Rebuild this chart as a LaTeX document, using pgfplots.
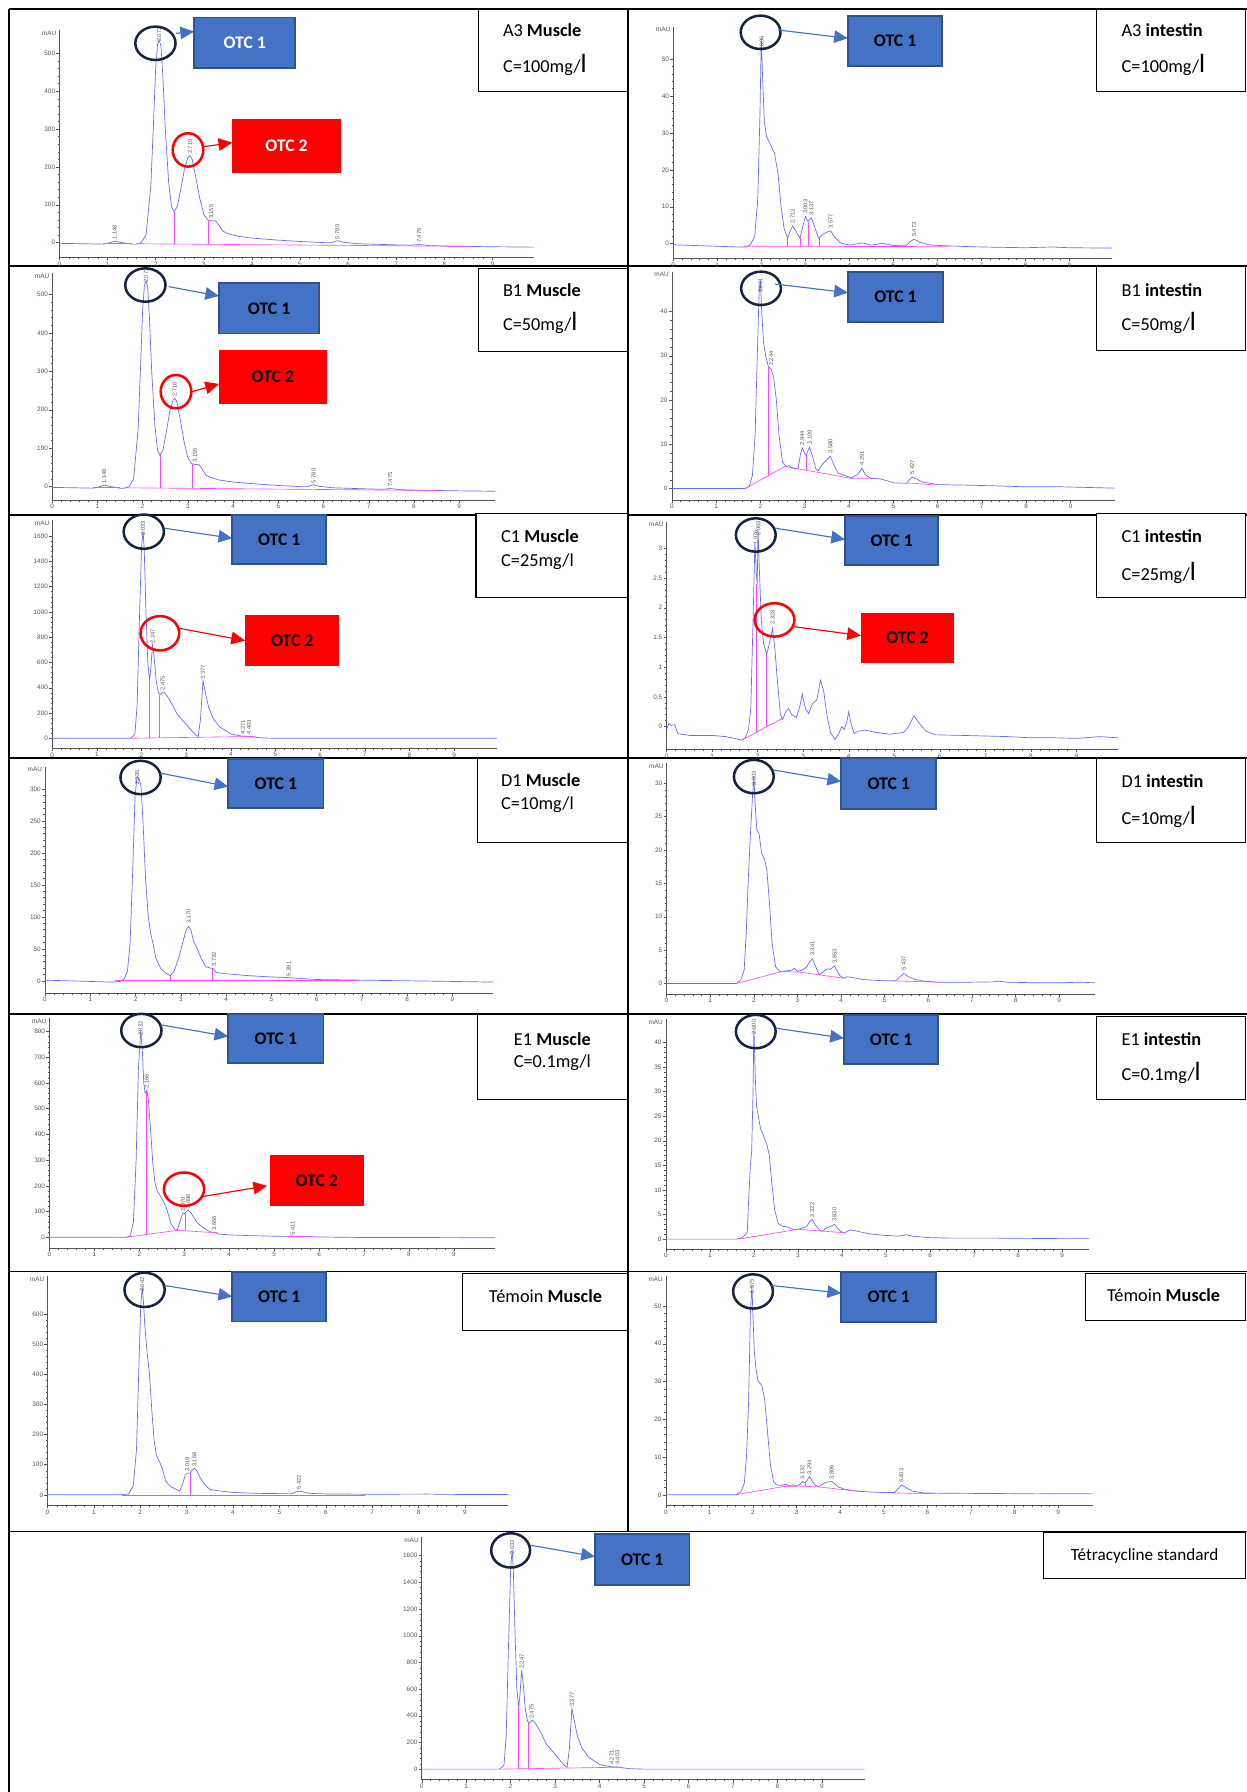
\documentclass[border=0pt]{standalone}
\usepackage{fontspec}
\setmainfont{Carlito}
\newfontfamily\arialf{Liberation Sans}
\usepackage{pgfplots}
\pgfplotsset{compat=1.18}
\usetikzlibrary{arrows.meta}

\definecolor{curve}{RGB}{105,105,248}
\definecolor{magl}{RGB}{255,70,255}
\definecolor{otcblue}{RGB}{68,114,196}
\definecolor{otcborder}{RGB}{47,82,143}
\definecolor{navy}{RGB}{24,36,62}
\definecolor{axgray}{RGB}{85,85,85}

\newcommand\tickfont{\arialf\fontsize{5.6}{6}\selectfont}
\newcommand\peakfont{\arialf\fontsize{5}{5}\selectfont}
\newcommand\otcfont{\fontsize{15.5}{17}\selectfont\bfseries}
\newcommand\labfont{\fontsize{16}{18}\selectfont}
\newcommand\BL{{\fontsize{23}{23}\selectfont l}}

\tikzset{plab/.style={rotate=90, anchor=west, font=\peakfont, text=black!65, inner sep=0.6pt}}
\pgfplotsset{
  chrom/.style={
    scale only axis, clip=false, anchor=south west,
    axis x line=bottom, axis y line=left,
    axis line style={-, draw=axgray, line width=0.45pt},
    tick style={draw=axgray, line width=0.35pt},
    major tick length=2.6pt, minor tick length=1.5pt,
    tick align=outside,
    xtick={0,1,...,9}, minor x tick num=4, minor y tick num=4,
    ticklabel style={font=\tickfont, text=axgray, inner sep=1pt},
    /pgf/number format/assume math mode=true,
    /pgf/number format/1000 sep={},
    extra description/.code={\node[font=\tickfont, text=axgray, anchor=north east, inner sep=0.5pt, xshift=-2pt] at (0,1) {mAU};},
  },
  cv/.style={draw=curve, line width=0.6pt, no marks},
  mg/.style={draw=magl, line width=0.55pt, no marks},
}

\newcommand\otcA[5]{%
  \draw[fill=otcblue, draw=otcborder, line width=1.5pt] (#1,#2) rectangle (#3,#4);
  \node[text=#5, font=\otcfont] at ({(#1+#3)/2},{(#2+#4)/2}) {OTC 1};}
\newcommand\otcB[5]{%
  \fill[red] (#1,#2) rectangle (#3,#4);
  \node[text=#5, font=\otcfont] at ({(#1+#3)/2},{(#2+#4)/2}) {OTC 2};}
\newcommand\circN[4]{\draw[navy, line width=2.2pt] (#1,#2) ellipse [x radius=#3pt, y radius=#4pt];}
\newcommand\circR[4]{\draw[red, line width=2.2pt] (#1,#2) ellipse [x radius=#3pt, y radius=#4pt];}
\newcommand\arrB[4]{\draw[otcblue, line width=1pt, -{Triangle[length=12pt, width=11pt]}] (#1,#2) -- (#3,#4);}
\newcommand\arrR[4]{\draw[red, line width=1pt, -{Triangle[length=12pt, width=11pt]}] (#1,#2) -- (#3,#4);}
\newcommand\labbox[4]{\draw[black, line width=0.9pt, fill=white] (#1,#2) rectangle (#3,#4);}

\begin{document}
\begin{tikzpicture}
\useasboundingbox (0,0) rectangle (1091pt,-1568pt);
% table frame
\begin{scope}[x=1pt,y=-1pt, line width=1.4pt]
\draw (8,8) -- (1091,8);
\draw (8,8) -- (8,1568);
\draw (549.5,8) -- (549.5,1340);
\foreach \yy in {233,450.5,663.5,887,1112.5,1340} {\draw (8,\yy) -- (1091,\yy);}
\end{scope}

% ---------- A3 Muscle ----------
\begin{axis}[chrom, at={(52pt,-225.1pt)}, width=415.5pt, height=198.9pt,
  xmin=0, xmax=9.87, ymin=-38.7, ymax=562, ytick={0,100,...,500}]
\addplot[cv] coordinates {(0,-2) (0.5,-3) (0.9,-4) (1.0,-2) (1.148,4) (1.3,0) (1.5,-4) (1.6,-4) (1.7,0) (1.8,20) (1.9,150) (1.95,300) (2.0,460) (2.04,525) (2.073,535) (2.11,520) (2.15,440) (2.2,300) (2.27,160) (2.33,95) (2.38,82) (2.45,95) (2.52,140) (2.6,195) (2.67,225) (2.71,230) (2.76,220) (2.83,175) (2.92,115) (3.0,75) (3.08,60) (3.155,58) (3.25,57) (3.32,45) (3.4,30) (3.5,24) (3.7,17) (4.0,12) (4.5,7) (5.0,3) (5.5,0) (5.65,0) (5.78,5) (5.9,1) (6.2,-3) (7.0,-6) (7.3,-7) (7.475,-5) (7.7,-8) (8.0,-9) (9.0,-11) (9.87,-12)};
\addplot[mg] coordinates {(1.6,-3) (8.6,-10)};
\addplot[mg] coordinates {(0.9,-3) (1.5,-3)};
\addplot[mg] coordinates {(2.38,-4) (2.38,82)};
\addplot[mg] coordinates {(3.10,-4.5) (3.10,60)};
\node[plab] at (axis cs:1.148,6) {1.148};
\node[plab] at (axis cs:2.073,528) {2.073};
\node[plab] at (axis cs:2.71,232) {2.710};
\node[plab] at (axis cs:3.155,60) {3.155};
\node[plab] at (axis cs:5.78,7) {5.780};
\node[plab] at (axis cs:7.475,-3) {7.475};
\end{axis}

% ---------- A3 intestin ----------
\begin{axis}[chrom, at={(589.1pt,-226pt)}, width=383.9pt, height=202.7pt,
  xmin=0, xmax=9.97, ymin=-3.96, ymax=58.8, ytick={0,10,...,50}]
\addplot[cv] coordinates {(0,-0.3) (0.5,-0.5) (1.0,-0.7) (1.5,-0.9) (1.65,-0.9) (1.75,-0.3) (1.85,2) (1.92,12) (1.97,35) (2.0,55.6) (2.03,45) (2.07,33) (2.12,29) (2.2,27) (2.3,24.5) (2.38,19) (2.45,10) (2.52,4) (2.6,1.5) (2.66,3.5) (2.713,4.8) (2.78,3.5) (2.88,1.5) (2.95,5) (3.003,7.4) (3.06,6) (3.137,7) (3.2,5) (3.3,1.5) (3.4,2.5) (3.5,3.2) (3.577,3.5) (3.65,2) (3.8,0.2) (4.0,-0.4) (4.3,0.2) (4.5,-0.4) (4.75,0.1) (5.0,-0.5) (5.3,-0.4) (5.4,0.7) (5.473,1.2) (5.6,0.4) (5.8,-0.3) (6.2,-0.6) (7.0,-0.9) (8.0,-1.1) (8.6,-0.9) (9.0,-1.1) (9.97,-1.2)};
\addplot[mg] coordinates {(1.6,-0.7) (6.25,-0.8)};
\addplot[mg] coordinates {(2.6,-0.7) (2.6,1.5)};
\addplot[mg] coordinates {(2.88,-0.7) (2.88,1.5)};
\addplot[mg] coordinates {(3.06,-0.7) (3.06,6)};
\addplot[mg] coordinates {(3.32,-0.7) (3.32,1.5)};
\node[plab] at (axis cs:2.006,52) {2.006};
\node[plab] at (axis cs:2.713,5.2) {2.713};
\node[plab] at (axis cs:3.003,7.8) {3.003};
\node[plab] at (axis cs:3.137,7.4) {3.137};
\node[plab] at (axis cs:3.577,3.9) {3.577};
\node[plab] at (axis cs:5.473,1.6) {5.473};
\end{axis}

% ---------- B1 Muscle ----------
\begin{axis}[chrom, at={(45.7pt,-437.5pt)}, width=387.7pt, height=198.3pt,
  xmin=0, xmax=9.8, ymin=-34.8, ymax=555, ytick={0,100,...,500}]
\addplot[cv] coordinates {(0,-2) (0.5,-3) (0.9,-4) (1.0,-2) (1.148,4) (1.3,0) (1.5,-4) (1.6,-4) (1.7,0) (1.8,20) (1.9,150) (1.95,300) (2.0,460) (2.04,525) (2.073,535) (2.11,520) (2.15,440) (2.2,300) (2.27,160) (2.33,95) (2.38,82) (2.45,95) (2.52,140) (2.6,195) (2.67,225) (2.71,230) (2.76,220) (2.83,175) (2.92,115) (3.0,75) (3.08,60) (3.155,58) (3.25,57) (3.32,45) (3.4,30) (3.5,24) (3.7,17) (4.0,12) (4.5,7) (5.0,3) (5.5,0) (5.65,0) (5.78,5) (5.9,1) (6.2,-3) (7.0,-6) (7.3,-7) (7.475,-5) (7.7,-8) (8.0,-9) (9.0,-11) (9.8,-12)};
\addplot[mg] coordinates {(1.6,-3) (8.5,-10)};
\addplot[mg] coordinates {(0.9,-3) (1.5,-3)};
\addplot[mg] coordinates {(2.38,-4) (2.38,82)};
\addplot[mg] coordinates {(3.10,-4.5) (3.10,60)};
\node[plab] at (axis cs:1.148,6) {1.148};
\node[plab] at (axis cs:2.073,528) {2.073};
\node[plab] at (axis cs:2.71,232) {2.710};
\node[plab] at (axis cs:3.155,60) {3.155};
\node[plab] at (axis cs:5.78,7) {5.780};
\node[plab] at (axis cs:7.475,-3) {7.475};
\end{axis}

% ---------- B1 intestin ----------
\begin{axis}[chrom, at={(587.8pt,-437.5pt)}, width=387.7pt, height=199.8pt,
  xmin=0, xmax=10, ymin=-2.58, ymax=49, ytick={0,10,...,40}]
\addplot[cv] coordinates {(0,0) (1.0,0) (1.65,0) (1.75,0.5) (1.82,3) (1.88,12) (1.93,30) (1.97,44) (2.0,47) (2.03,40) (2.07,33) (2.12,30) (2.18,27.5) (2.244,27) (2.3,25) (2.36,20) (2.42,12) (2.5,6) (2.58,5) (2.65,5.2) (2.75,4.5) (2.85,4.5) (2.9,7.5) (2.944,9.2) (3.0,8) (3.03,7.5) (3.07,8.5) (3.109,9.3) (3.17,7.5) (3.25,4.5) (3.3,4) (3.4,5.5) (3.5,6.5) (3.58,7.3) (3.65,5.5) (3.75,3.5) (3.9,3) (4.05,2.4) (4.2,3.2) (4.291,4.6) (4.38,3) (4.5,2.3) (4.7,2.2) (4.85,1.8) (5.0,1.3) (5.3,1.2) (5.36,2) (5.427,2.6) (5.5,2.3) (5.65,1.5) (6.0,0.9) (7.0,0.7) (8.0,0.4) (8.8,0.4) (9.2,0.3) (10,0.1)};
\addplot[mg] coordinates {(1.65,0) (2.55,5) (4.05,2.3) (4.55,2.3)};
\addplot[mg] coordinates {(5.3,1.3) (5.95,0.8)};
\addplot[mg] coordinates {(2.18,2.94) (2.18,27.5)};
\addplot[mg] coordinates {(3.03,4.14) (3.03,7.5)};
\node[plab] at (axis cs:2.0,44) {2.001};
\node[plab] at (axis cs:2.244,27.5) {2.244};
\node[plab] at (axis cs:2.944,9.6) {2.944};
\node[plab] at (axis cs:3.109,9.7) {3.109};
\node[plab] at (axis cs:3.58,7.7) {3.580};
\node[plab] at (axis cs:4.291,5) {4.291};
\node[plab] at (axis cs:5.427,3) {5.427};
\end{axis}

% ---------- C1 Muscle ----------
\begin{axis}[chrom, at={(45.7pt,-654.7pt)}, width=389.1pt, height=199.7pt,
  xmin=0, xmax=9.96, ymin=-78.6, ymax=1727, ytick={0,200,...,1600}]
\addplot[cv] coordinates {(0,0) (1.0,0) (1.75,0) (1.85,30) (1.9,250) (1.95,900) (2.0,1500) (2.033,1645) (2.06,1500) (2.1,1000) (2.14,600) (2.18,460) (2.21,560) (2.247,740) (2.28,650) (2.33,450) (2.38,360) (2.42,345) (2.475,365) (2.52,360) (2.6,320) (2.7,260) (2.8,190) (2.95,130) (3.1,70) (3.2,30) (3.27,15) (3.32,150) (3.377,455) (3.42,380) (3.5,250) (3.6,160) (3.75,90) (4.0,35) (4.2,20) (4.271,18) (4.35,15) (4.403,16) (4.5,10) (4.7,3) (5.0,0) (9.96,0)};
\addplot[mg] coordinates {(1.75,0) (4.55,15)};
\addplot[mg] coordinates {(2.18,2) (2.18,460)};
\addplot[mg] coordinates {(2.40,3) (2.40,345)};
\node[plab] at (axis cs:2.033,1600) {2.033};
\node[plab] at (axis cs:2.247,745) {2.247};
\node[plab] at (axis cs:2.475,370) {2.475};
\node[plab] at (axis cs:3.377,460) {3.377};
\node[plab] at (axis cs:4.271,25) {4.271};
\node[plab] at (axis cs:4.403,25) {4.403};
\end{axis}

% ---------- C1 intestin ----------
\begin{axis}[chrom, at={(583.2pt,-655.6pt)}, width=395pt, height=199.2pt,
  xmin=0, xmax=9.91, ymin=-0.383, ymax=3.45, ytick={0,0.5,...,3}]
\addplot[cv] coordinates {(0,-0.05) (0.05,0.05) (0.1,0.02) (0.18,0.03) (0.25,-0.12) (0.5,-0.15) (1.0,-0.15) (1.3,-0.17) (1.5,-0.2) (1.65,-0.23) (1.72,-0.2) (1.8,-0.05) (1.85,0.3) (1.9,1.8) (1.94,3.1) (1.97,2.6) (1.99,2.4) (2.01,3.3) (2.04,2.6) (2.08,1.8) (2.13,1.4) (2.2,1.22) (2.26,1.4) (2.328,1.65) (2.38,1.3) (2.43,0.8) (2.5,0.2) (2.55,0.12) (2.62,0.25) (2.68,0.3) (2.75,0.2) (2.85,0.15) (2.93,0.35) (2.98,0.55) (3.05,0.3) (3.12,0.22) (3.2,0.38) (3.3,0.45) (3.38,0.78) (3.45,0.6) (3.52,0.2) (3.6,-0.1) (3.7,-0.22) (3.78,-0.12) (3.85,0.0) (3.9,-0.05) (3.95,0.05) (4.0,0.25) (4.05,0.05) (4.12,-0.12) (4.2,-0.08) (4.35,-0.06) (4.6,-0.1) (4.9,-0.13) (5.2,-0.1) (5.3,-0.02) (5.43,0.18) (5.55,0.05) (5.7,-0.08) (5.9,-0.14) (6.5,-0.15) (7.0,-0.16) (7.5,-0.17) (8.0,-0.19) (8.5,-0.19) (9.0,-0.2) (9.5,-0.17) (9.91,-0.19)};
\addplot[mg] coordinates {(1.65,-0.23) (2.55,0.14)};
\addplot[mg] coordinates {(1.97,-0.10) (1.97,2.4)};
\addplot[mg] coordinates {(2.2,0) (2.2,1.22)};
\node[plab] at (axis cs:1.955,3.05) {1.976};
\node[plab] at (axis cs:2.015,3.2) {2.003};
\node[plab] at (axis cs:2.328,1.7) {2.328};
\end{axis}

% ---------- D1 Muscle ----------
\begin{axis}[chrom, at={(39.4pt,-869pt)}, width=392.2pt, height=198.3pt,
  xmin=0, xmax=9.9, ymin=-19.3, ymax=335, ytick={0,50,...,300}]
\addplot[cv] coordinates {(0,1) (0.5,0) (1.0,-1) (1.5,-2) (1.65,-1) (1.75,3) (1.82,15) (1.88,60) (1.94,180) (1.99,290) (2.035,320) (2.08,315) (2.12,305) (2.17,240) (2.22,160) (2.28,100) (2.33,75) (2.38,60) (2.45,35) (2.55,20) (2.65,13) (2.77,8) (2.85,15) (2.95,35) (3.05,62) (3.12,80) (3.17,85) (3.22,80) (3.28,62) (3.35,52) (3.45,35) (3.55,22) (3.65,20) (3.72,19) (3.78,13) (4.0,11) (4.5,8) (5.0,6) (5.381,5) (6.0,2) (7.0,1) (8.0,0) (9.0,-1) (9.9,-2)};
\addplot[mg] coordinates {(1.55,0) (6.95,0)};
\addplot[mg] coordinates {(2.77,0) (2.77,8)};
\addplot[mg] coordinates {(3.70,0) (3.70,20)};
\node[plab] at (axis cs:2.035,305) {2.035};
\node[plab] at (axis cs:3.17,88) {3.170};
\node[plab] at (axis cs:3.732,21) {3.732};
\node[plab] at (axis cs:5.381,6) {5.381};
\end{axis}

% ---------- D1 intestin ----------
\begin{axis}[chrom, at={(583.2pt,-869.9pt)}, width=374.9pt, height=202.1pt,
  xmin=0, xmax=9.82, ymin=-1.6, ymax=33, ytick={0,5,...,30}]
\addplot[cv] coordinates {(0,0) (1.0,0) (1.6,0) (1.7,0.5) (1.78,2) (1.83,8) (1.87,15) (1.92,22) (1.97,28) (2.003,31) (2.03,27) (2.07,23) (2.12,22.5) (2.18,19.5) (2.25,18.5) (2.3,17) (2.36,12) (2.42,6) (2.5,2.5) (2.6,1.8) (2.75,1.9) (2.88,2.0) (2.93,2.3) (3.0,1.8) (3.1,2.0) (3.2,2.4) (3.28,3.2) (3.341,3.7) (3.4,2.8) (3.5,1.3) (3.6,1.8) (3.68,2.2) (3.75,2.1) (3.82,2.5) (3.853,2.6) (3.9,2.0) (3.97,1.2) (4.05,0.8) (4.15,1.0) (4.25,0.9) (4.5,0.6) (5.0,0.4) (5.25,0.4) (5.35,1.0) (5.437,1.5) (5.55,1.0) (5.7,0.6) (5.9,0.35) (6.2,0.2) (7.0,0.2) (7.5,0.25) (7.6,0.35) (7.8,0.2) (8.5,0.1) (9.0,0.1) (9.5,0.2) (9.82,0.1)};
\addplot[mg] coordinates {(1.6,0) (2.65,1.8) (3.05,1.7) (4.05,0.8)};
\addplot[mg] coordinates {(5.2,0.4) (6.2,0.2)};
\node[plab] at (axis cs:2.003,29.5) {2.003};
\node[plab] at (axis cs:3.341,4) {3.341};
\node[plab] at (axis cs:3.853,2.9) {3.853};
\node[plab] at (axis cs:5.437,1.8) {5.437};
\end{axis}

% ---------- E1 Muscle ----------
\begin{axis}[chrom, at={(43.2pt,-1091.8pt)}, width=390.2pt, height=200.9pt,
  xmin=0, xmax=9.92, ymin=-41, ymax=852, ytick={0,100,...,800}]
\addplot[cv] coordinates {(0,0) (1.0,0) (1.7,0) (1.8,5) (1.87,60) (1.93,300) (1.98,650) (2.032,805) (2.07,720) (2.1,600) (2.13,560) (2.166,572) (2.2,540) (2.25,420) (2.3,290) (2.35,210) (2.4,180) (2.47,160) (2.55,135) (2.62,105) (2.7,55) (2.78,32) (2.85,30) (2.92,70) (2.97,95) (3.01,92) (3.05,100) (3.09,105) (3.15,95) (3.22,75) (3.3,55) (3.4,40) (3.5,28) (3.6,20) (3.666,20) (3.75,13) (4.0,9) (4.5,6) (5.0,4) (5.411,3) (6.0,1) (7.0,-1) (8.0,-1) (9.92,-2)};
\addplot[mg] coordinates {(1.7,0) (2.85,27) (3.75,17)};
\addplot[mg] coordinates {(5.3,3) (5.9,2)};
\addplot[mg] coordinates {(2.15,10.6) (2.15,570)};
\addplot[mg] coordinates {(3.02,25) (3.02,95)};
\node[plab] at (axis cs:2.032,780) {2.032};
\node[plab] at (axis cs:2.166,575) {2.166};
\node[plab] at (axis cs:2.97,98) {2.970};
\node[plab] at (axis cs:3.09,108) {3.090};
\node[plab] at (axis cs:3.666,22) {3.666};
\node[plab] at (axis cs:5.411,5) {5.411};
\end{axis}

% ---------- E1 intestin ----------
\begin{axis}[chrom, at={(582.6pt,-1093pt)}, width=370.3pt, height=201.2pt,
  xmin=0, xmax=9.61, ymin=-2.04, ymax=44.7, ytick={0,5,...,40}]
\addplot[cv] coordinates {(0,0) (1.0,0) (1.6,0) (1.7,0.2) (1.8,0.8) (1.85,1.5) (1.88,8) (1.92,15) (1.95,18) (1.98,30) (2.0,43) (2.03,33) (2.06,27) (2.1,25) (2.15,22.5) (2.22,21) (2.3,19) (2.35,17) (2.4,12) (2.47,6) (2.55,3.2) (2.65,2.6) (2.75,2.5) (2.85,2.1) (2.95,1.9) (3.08,2.2) (3.2,2.6) (3.25,3.4) (3.322,4.0) (3.4,2.8) (3.5,1.8) (3.55,1.6) (3.65,2.3) (3.75,2.6) (3.83,3.0) (3.9,2.2) (3.97,1.6) (4.05,1.2) (4.12,1.6) (4.2,1.9) (4.35,1.6) (4.6,1.1) (4.9,0.8) (5.3,0.6) (5.45,0.9) (5.6,0.6) (6.0,0.3) (6.5,0.2) (7.5,0.2) (9.0,0.1) (9.61,0.1)};
\addplot[mg] coordinates {(1.65,0) (3.0,2.0) (4.05,1.3)};
\node[plab] at (axis cs:2.0,41.5) {2.000};
\node[plab] at (axis cs:3.322,4.3) {3.322};
\node[plab] at (axis cs:3.83,3.3) {3.830};
\end{axis}

% ---------- Temoin Muscle (left) ----------
\begin{axis}[chrom, at={(41.5pt,-1317.2pt)}, width=403.1pt, height=200.3pt,
  xmin=0, xmax=9.93, ymin=-35, ymax=724, ytick={0,100,...,600}]
\addplot[cv] coordinates {(0,0) (1.0,0) (1.6,0) (1.75,3) (1.85,30) (1.92,150) (1.97,420) (2.01,620) (2.042,690) (2.07,640) (2.1,560) (2.15,470) (2.2,400) (2.25,280) (2.3,180) (2.35,130) (2.4,115) (2.47,90) (2.55,45) (2.65,28) (2.75,20) (2.85,12) (2.92,40) (2.97,65) (3.019,72) (3.07,72) (3.12,82) (3.168,88) (3.22,80) (3.3,55) (3.4,32) (3.5,18) (3.7,13) (4.0,8) (4.5,5) (5.0,4) (5.25,3) (5.35,9) (5.422,12) (5.5,10) (5.65,5) (6.0,3) (7.0,2) (8.2,2.5) (9.0,1) (9.93,1)};
\addplot[mg] coordinates {(1.6,0) (6.85,0)};
\addplot[mg] coordinates {(3.07,0) (3.07,72)};
\node[plab] at (axis cs:2.042,670) {2.042};
\node[plab] at (axis cs:3.019,75) {3.019};
\node[plab] at (axis cs:3.168,90) {3.168};
\node[plab] at (axis cs:5.422,14) {5.422};
\end{axis}

% ---------- Temoin (right) ----------
\begin{axis}[chrom, at={(582.6pt,-1317.2pt)}, width=373.8pt, height=200.3pt,
  xmin=0, xmax=9.8, ymin=-2.8, ymax=57.8, ytick={0,10,...,50}]
\addplot[cv] coordinates {(0,0) (1.0,0) (1.6,0) (1.72,0.8) (1.8,3) (1.85,10) (1.9,25) (1.94,48) (1.975,55.5) (2.0,47) (2.03,38) (2.07,33) (2.12,30) (2.2,29) (2.27,25) (2.33,17) (2.4,8) (2.47,3.5) (2.55,2.6) (2.65,2.5) (2.75,2.8) (2.82,2.4) (2.9,2.6) (3.0,2.3) (3.08,2.8) (3.132,3.5) (3.2,3.2) (3.25,4.0) (3.294,4.8) (3.35,3.8) (3.42,2.6) (3.5,2.1) (3.6,2.9) (3.7,3.4) (3.806,3.5) (3.88,2.9) (3.95,2.1) (4.1,1.5) (4.3,1.1) (4.6,0.8) (5.0,0.6) (5.25,0.6) (5.33,1.6) (5.403,2.6) (5.5,2.0) (5.65,1.0) (5.9,0.5) (6.5,0.4) (7.5,0.35) (8.5,0.25) (9.2,0.3) (9.8,0.25)};
\addplot[mg] coordinates {(1.6,0) (2.7,2.2) (3.05,2.3) (3.5,2.1) (4.5,0.8)};
\addplot[mg] coordinates {(5.2,0.5) (6.2,0.3)};
\addplot[mg] coordinates {(3.2,2.25) (3.2,3.2)};
\node[plab] at (axis cs:1.975,53) {1.975};
\node[plab] at (axis cs:3.132,3.8) {3.132};
\node[plab] at (axis cs:3.294,5.1) {3.294};
\node[plab] at (axis cs:3.806,3.8) {3.806};
\node[plab] at (axis cs:5.403,2.9) {5.403};
\end{axis}

% ---------- Tetracycline standard ----------
\begin{axis}[chrom, at={(369pt,-1557.2pt)}, width=387.5pt, height=212pt,
  xmin=0, xmax=9.96, ymin=-79, ymax=1737, ytick={0,200,...,1600}]
\addplot[cv] coordinates {(0,0) (1.0,0) (1.75,0) (1.85,30) (1.9,250) (1.95,900) (2.0,1500) (2.033,1645) (2.06,1500) (2.1,1000) (2.14,600) (2.18,460) (2.21,560) (2.247,740) (2.28,650) (2.33,450) (2.38,360) (2.42,345) (2.475,365) (2.52,360) (2.6,320) (2.7,260) (2.8,190) (2.95,130) (3.1,70) (3.2,30) (3.27,15) (3.32,150) (3.377,455) (3.42,380) (3.5,250) (3.6,160) (3.75,90) (4.0,35) (4.2,20) (4.271,18) (4.35,15) (4.403,16) (4.5,10) (4.7,3) (5.0,0) (9.96,0)};
\addplot[mg] coordinates {(1.75,0) (4.55,15)};
\addplot[mg] coordinates {(2.18,2) (2.18,460)};
\addplot[mg] coordinates {(2.40,3) (2.40,345)};
\node[plab] at (axis cs:2.033,1600) {2.033};
\node[plab] at (axis cs:2.247,745) {2.247};
\node[plab] at (axis cs:2.475,370) {2.475};
\node[plab] at (axis cs:3.377,460) {3.377};
\node[plab] at (axis cs:4.271,25) {4.271};
\node[plab] at (axis cs:4.403,25) {4.403};
\end{axis}

% ================= annotations =================
\begin{scope}[x=1pt,y=-1pt]
% Row A3
\circN{136}{37.9}{17.6}{14.6}
\arrB{153.6}{29.2}{169.8}{27.7}
\otcA{169.8}{15.2}{258.4}{59.8}{white}
\circR{164.5}{131.2}{13.4}{14.6}
\arrR{178.6}{128.3}{203.2}{124.8}
\otcB{203.2}{104.1}{298.1}{151.1}{white}
\labbox{418.3}{8}{549.5}{80.2}
\node[anchor=west, font=\labfont] at (436.6,26.8) {A3 \textbf{Muscle}};
\node[anchor=west, font=\labfont] at (436.6,56.9) {C=100mg/\BL};
\circN{665.5}{28.3}{17.4}{14.6}
\arrB{680.4}{26.2}{741.9}{33.5}
\otcA{741.9}{14}{824.5}{57.7}{black}
\labbox{959.8}{8}{1090}{80.2}
\node[anchor=west, font=\labfont] at (977.9,26.8) {A3 \textbf{intestin}};
\node[anchor=west, font=\labfont] at (977.9,56.9) {C=100mg/\BL};
% Row B1
\circN{127.2}{249.4}{17.6}{14.6}
\arrB{147.6}{250.8}{191.6}{259}
\otcA{191.6}{247.9}{279.4}{291.7}{black}
\circR{154}{342.7}{13.4}{14.6}
\arrR{168}{342.7}{191.6}{336}
\otcB{191.6}{306.2}{285.8}{353.5}{black}
\labbox{418.3}{234.8}{549.5}{307.7}
\node[anchor=west, font=\labfont] at (436.6,254.3) {B1 \textbf{Muscle}};
\node[anchor=west, font=\labfont] at (436.6,282.9) {C=50mg/\BL};
\circN{665.9}{252.3}{17.4}{14.6}
\arrB{678}{248.5}{741.9}{256.1}
\otcA{741.9}{237.7}{825.2}{281.7}{black}
\labbox{959.8}{233.3}{1090}{306.8}
\node[anchor=west, font=\labfont] at (977.9,253.7) {B1 \textbf{intestin}};
\node[anchor=west, font=\labfont] at (977.9,282.9) {C=50mg/\BL};
% Row C1
\circN{125.8}{465.2}{17.6}{15}
\arrB{144.1}{462.2}{203.2}{471}
\otcA{203.2}{450.6}{285.4}{493.7}{black}
\circR{139.9}{554.1}{16.9}{15}
\arrR{156.4}{549.7}{214.4}{560.5}
\otcB{214.4}{538.3}{297}{582.4}{black}
\labbox{416.5}{449.1}{549.5}{522.6}
\node[anchor=west, font=\labfont] at (435,469.5) {C1 \textbf{Muscle}};
\node[anchor=west, font=\labfont] at (435,491.4) {C=25mg/l};
\circN{661.3}{468.1}{17.4}{14.6}
\arrB{678.7}{462.2}{739.4}{471.9}
\otcA{739.4}{451.4}{821}{494.3}{black}
\circR{677.7}{542.4}{17.4}{14.6}
\arrR{694.3}{548.3}{753.3}{556.1}
\otcB{753.3}{536}{834.9}{580.3}{black}
\labbox{959.2}{449.1}{1090}{522.6}
\node[anchor=west, font=\labfont] at (977.9,469.5) {C1 \textbf{intestin}};
\node[anchor=west, font=\labfont] at (977.9,501.6) {C=25mg/\BL};
% Row D1
\circN{123}{680.3}{17.6}{14.6}
\arrB{140.6}{676.5}{199.7}{688.2}
\otcA{199.7}{664}{283}{707.2}{black}
\labbox{417.6}{663.5}{549.5}{736.9}
\node[anchor=west, font=\labfont] at (435,682.4) {D1 \textbf{Muscle}};
\node[anchor=west, font=\labfont] at (435,703.7) {C=10mg/l};
\circN{659.6}{679.5}{17.4}{14.6}
\arrB{675.9}{673.6}{736}{683.8}
\otcA{736}{663.5}{819.3}{707.7}{black}
\labbox{959.8}{663.5}{1090}{736.9}
\node[anchor=west, font=\labfont] at (977.9,683.8) {D1 \textbf{intestin}};
\node[anchor=west, font=\labfont] at (977.9,714.4) {C=10mg/\BL};
% Row E1
\circN{123.7}{901.7}{17.6}{14.6}
\arrB{140.6}{896.7}{199.7}{906.9}
\otcA{199.7}{887.1}{283}{930.3}{black}
\circR{161}{1040.5}{17.6}{14.6}
\arrR{177.5}{1046.9}{233.7}{1037.6}
\otcB{236.2}{1011}{318.1}{1055.6}{black}
\labbox{417.6}{888}{549.5}{961.8}
\node[font=\labfont] at (483.3,909.3) {E1 \textbf{Muscle}};
\node[font=\labfont] at (483.3,930.3) {C=0.1mg/l};
\circN{661.3}{902.6}{17.4}{14.6}
\arrB{678.7}{899.6}{738.4}{908.4}
\otcA{738.4}{888}{821}{930.8}{black}
\labbox{959.8}{889.4}{1090}{962.3}
\node[anchor=west, font=\labfont] at (977.9,909.3) {E1 \textbf{intestin}};
\node[anchor=west, font=\labfont] at (977.9,939) {C=0.1mg/\BL};
% Row Temoin
\circN{126.5}{1128.6}{17.6}{15}
\arrB{144.1}{1124.8}{203.2}{1134.4}
\otcA{203.2}{1113.1}{285.4}{1156.3}{black}
\labbox{404.9}{1114}{549.5}{1164.1}
\node[font=\labfont] at (477.3,1134.4) {Témoin \textbf{Muscle}};
\circN{658.9}{1130}{17.4}{15}
\arrB{675.2}{1124.8}{736}{1131.5}
\otcA{736}{1113.1}{819.3}{1156.9}{black}
\labbox{950.1}{1114}{1090}{1155.7}
\node[font=\labfont] at (1018.2,1133.5) {Témoin \textbf{Muscle}};
% Standard
\circN{446.8}{1356.6}{17}{15}
\arrB{464}{1352}{520.6}{1362}
\otcA{520.6}{1342.3}{603.4}{1386.7}{black}
\labbox{913}{1341}{1090}{1381}
\node[font=\fontsize{15}{17}\selectfont] at (1001.5,1361) {Tétracycline standard};
\end{scope}
\end{tikzpicture}
\end{document}
